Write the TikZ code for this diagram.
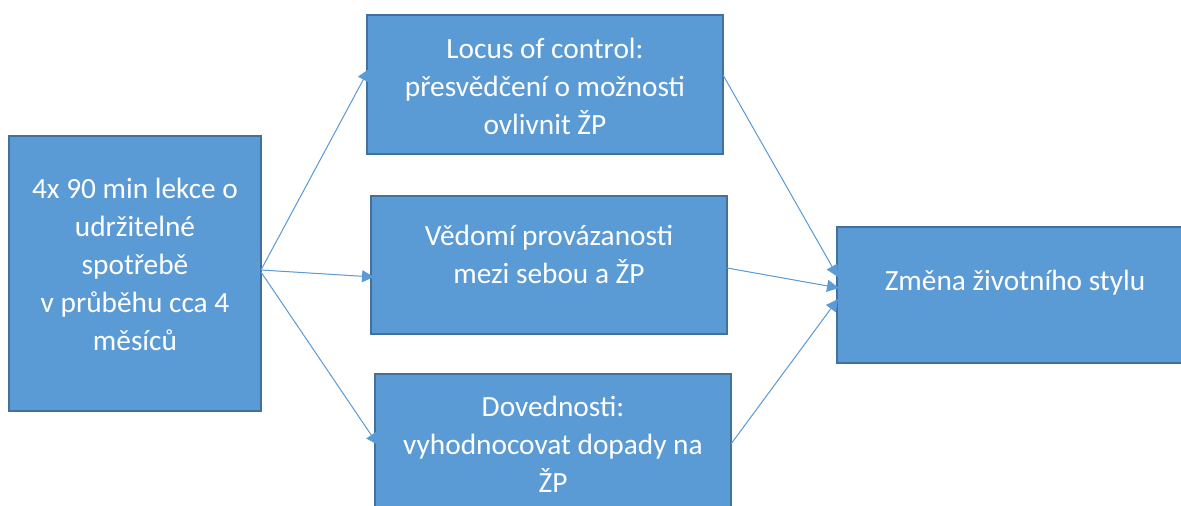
\documentclass[tikz,border=0pt]{standalone}
\usepackage{fontspec}
\setmainfont{Carlito}
\usetikzlibrary{arrows.meta}
\definecolor{boxfill}{HTML}{5B9BD5}
\definecolor{boxline}{HTML}{41719C}
\tikzset{
  box/.style={draw=boxline, line width=1.1pt, fill=boxfill, rectangle, inner sep=0pt},
  txt/.style={text=white, align=center, font=\fontsize{22}{28.5}\selectfont, inner sep=0pt},
  conn/.style={draw=boxfill, line width=0.75pt, -{Triangle[length=9pt,width=9pt]}, fill=boxfill}
}
\begin{document}
\begin{tikzpicture}[x=0.75pt,y=-0.75pt]
\useasboundingbox (0,0) rectangle (1181,506);
\begin{scope}
\clip (0,0) rectangle (1181,506);
% boxes
\node[box, minimum width=252*0.75pt, minimum height=275*0.75pt] (L) at (135,273.5) {};
\node[box, minimum width=356*0.75pt, minimum height=139*0.75pt] (A) at (545,84.5) {};
\node[box, minimum width=356*0.75pt, minimum height=138*0.75pt] (B) at (549,265) {};
\node[box, minimum width=356*0.75pt, minimum height=138*0.75pt] (C) at (553,443) {};
\node[box, minimum width=356*0.75pt, minimum height=136*0.75pt] (D) at (1015,295) {};
% texts
\node[txt] (Lt) at (135,264) {4x 90 min lekce o\\udržitelné\\spotřebě\\v průběhu cca 4\\měsíců};
\node[txt] (At) at (545,86) {Locus of control:\\přesvědčení o možnosti\\ovlivnit ŽP};
\node[txt] (Bt) at (549,254) {Vědomí provázanosti\\mezi sebou a ŽP};
\node[txt] (Ct) at (553,444) {Dovednosti:\\vyhodnocovat dopady na\\ŽP};
\node[txt] (Dt) at (1015,283) {Změna životního stylu};
% connector end points
\coordinate (l1) at (261,270);
\coordinate (l2) at (261,270);
\coordinate (l3) at (261,272);
\coordinate (a1) at (369,69);
\coordinate (b1) at (374,277);
\coordinate (c1) at (378,445);
\coordinate (a2) at (723,75);
\coordinate (b2) at (727,268);
\coordinate (c2) at (731,444);
\coordinate (d1) at (838,277);
\coordinate (d2) at (839,288);
\coordinate (d3) at (838,299);
\draw[conn] (l1) -- (a1);
\draw[conn] (l2) -- (b1);
\draw[conn] (l3) -- (c1);
\draw[conn] (a2) -- (d1);
\draw[conn] (b2) -- (d2);
\draw[conn] (c2) -- (d3);
\end{scope}
\end{tikzpicture}
\end{document}
